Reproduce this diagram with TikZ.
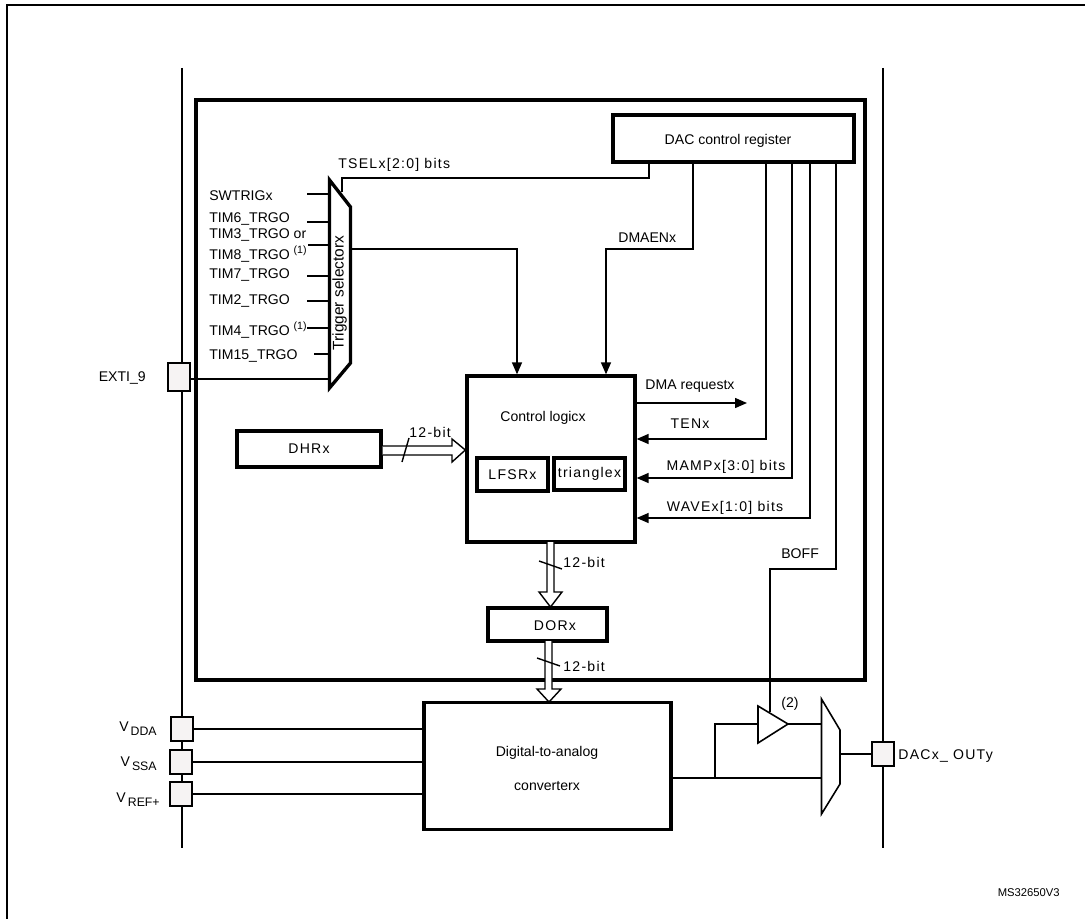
\documentclass[tikz,border=0pt]{standalone}
\usepackage{fontspec}
\setmainfont{Liberation Sans}
\usepackage{xcolor}
\usetikzlibrary{arrows.meta}
\definecolor{pinfill}{RGB}{246,243,243}
\tikzset{
    blockbox/.style={draw, line width=1.9pt, inner sep=0pt},
    pinbox/.style={draw, fill=pinfill, line width=0.9pt, inner sep=0pt, minimum width=0.44cm, minimum height=0.48cm},
    wire/.style={line width=0.8pt},
    sigarrow/.style={wire, -{Triangle[length=2.4mm,width=2mm]}},
    busline/.style={wire, fill=white},
    lbl/.style={inner sep=0pt, font=\fontsize{8}{9.6}\selectfont},
    spaced/.style={inner sep=0pt, font=\fontsize{8}{9.6}\selectfont\addfontfeature{LetterSpace=9}},
    inlbl/.style={lbl, anchor=west}
}
\newcommand{\noteone}{\raisebox{3pt}{\fontsize{6}{7}\selectfont(1)}}
\newcommand{\vsub}[1]{V\raisebox{-2.4pt}{\fontsize{7}{8}\selectfont\,#1}}

\begin{document}
\begin{tikzpicture}[x=0.02cm, y=-0.02cm]
    \useasboundingbox (0,0) rectangle (1085,919);

    % Frame
    \coordinate (framebl) at (7,919);
    \coordinate (frametl) at (7,5);
    \coordinate (frametr) at (1085,5);
    \draw[line width=1pt] (framebl) -- (frametl) -- (frametr);

    % Pin rails
    \coordinate (railltop) at (182,68);
    \coordinate (raillbot) at (182,848);
    \coordinate (railrtop) at (883,68);
    \coordinate (railrbot) at (883,848);
    \draw[wire] (railltop) -- (raillbot);
    \draw[wire] (railrtop) -- (railrbot);

    % Main block
    \node[blockbox, minimum width=13.38cm, minimum height=11.6cm] (mainblock) at (530.5,390) {};

    % Register and logic
    \node[blockbox, minimum width=4.82cm, minimum height=0.94cm] (dacreg) at (733.5,138.5) {};
    \node[lbl] (dacreglabel) at (728,141) {DAC control register};
    \node[blockbox, minimum width=3.36cm, minimum height=3.32cm] (ctrl) at (551,459) {};
    \node[lbl] (ctrllabel) at (543,418) {Control logicx};
    \node[blockbox, minimum width=1.42cm, minimum height=0.66cm, spaced] (lfsr) at (512.5,474.5) {LFSRx};
    \node[blockbox, minimum width=1.42cm, minimum height=0.64cm, spaced] (triangle) at (589.5,474) {trianglex};
    \node[blockbox, minimum width=2.88cm, minimum height=0.72cm, spaced] (dhr) at (309,449) {DHRx};
    \node[blockbox, minimum width=2.38cm, minimum height=0.66cm] (dor) at (547.5,624.5) {};
    \node[spaced] (dorlabel) at (555,626) {DORx};
    \node[blockbox, minimum width=4.94cm, minimum height=2.54cm] (dac) at (547.5,766) {};
    \node[lbl] (daclabel) at (547,753) {Digital-to-analog};
    \node[lbl] (daclabelb) at (547,786) {converterx};

    % Trigger selector
    \coordinate (selta) at (329.5,180);
    \coordinate (seltb) at (350.5,207);
    \coordinate (selbb) at (350.5,363);
    \coordinate (selba) at (329.5,388);
    \draw[line width=1.9pt, miter limit=20] (selta) -- (seltb) -- (selbb) -- (selba) -- cycle;
    \node[lbl, rotate=90, font=\fontsize{8.8}{10}\selectfont] (sellabel) at (339.5,293) {Trigger selectorx};

    % Trigger inputs
    \foreach \name/\ypos/\xstart/\ytext/\txt in {
        a/194/307/196/SWTRIGx,
        b/222/307/219/TIM6\_TRGO,
        c/245/308/254/{TIM8\_TRGO \noteone},
        d/276/307/275/TIM7\_TRGO,
        e/301/307/301/TIM2\_TRGO,
        f/328/307/330/{TIM4\_TRGO \noteone},
        g/354/314/356/TIM15\_TRGO}{
        \node[inlbl] (in\name) at (209,\ytext) {\txt};
        \coordinate (st\name) at (\xstart,\ypos);
        \draw[wire] (st\name) -- (st\name -| selta);
    }
    \node[inlbl] (inor) at (209,235) {TIM3\_TRGO or};

    % Pins
    \node[pinbox, minimum height=0.56cm] (exti) at (179,377) {};
    \node[pinbox] (vdda) at (182,729) {};
    \node[pinbox] (vssa) at (181,762) {};
    \node[pinbox] (vref) at (181,794) {};
    \node[pinbox] (dacout) at (883,754) {};
    \node[lbl, anchor=east] (extilabel) at (146,378) {EXTI\_9};
    \node[lbl, anchor=base east] (vddalabel) at (157,731) {\vsub{DDA}};
    \node[lbl, anchor=base east] (vssalabel) at (157,766) {\vsub{SSA}};
    \node[lbl, anchor=base east] (vreflabel) at (160,802) {\vsub{REF+}};
    \node[spaced, anchor=west] (dacoutlabel) at (898,756) {DACx\_ OUTy};

    \draw[wire] (exti.east |- 0,379) -- (selba |- 0,379);
    \draw[wire] (vdda.east) -- (vdda.east -| dac.west);
    \draw[wire] (vssa.east) -- (vssa.east -| dac.west);
    \draw[wire] (vref.east) -- (vref.east -| dac.west);

    % Selector to logic
    \coordinate (tselfoot) at (342,192);
    \draw[wire] (tselfoot) |- (649,178) -- (dacreg.south -| 649,0);
    \node[spaced, anchor=west] (tsellabel) at (338,165) {TSELx[2:0] bits};
    \draw[sigarrow] (seltb |- 0,249) -| (ctrl.north -| 517,0);
    \draw[sigarrow] (dacreg.south -| 693,0) |- (606,249) -- (ctrl.north -| 606,0);
    \node[lbl, anchor=west] (dmaenlabel) at (618,238) {DMAENx};

    % Control lines
    \draw[sigarrow] (ctrl.east |- 0,403) -- (747,403);
    \node[lbl] (dmalabel) at (690,386) {DMA requestx};
    \draw[sigarrow] (dacreg.south -| 766,0) |- (ctrl.east |- 0,439);
    \node[spaced] (tenlabel) at (690,424) {TENx};
    \draw[sigarrow] (dacreg.south -| 792,0) |- (ctrl.east |- 0,478);
    \node[spaced] (mamplabel) at (726,467) {MAMPx[3:0] bits};
    \draw[sigarrow] (dacreg.south -| 810,0) |- (ctrl.east |- 0,518);
    \node[spaced] (wavelabel) at (725,508) {WAVEx[1:0] bits};

    % Buses
    \draw[busline] (dhr.east |- 0,446) -- (452,446) -- (452,439) -- (ctrl.west |- 0,450) -- (452,462) -- (452,455) -- (dhr.east |- 0,455);
    \draw[wire] (409,438) -- (402,462);
    \node[spaced, anchor=west] (bitlabela) at (409,432) {12-bit};
    \draw[busline] (547,542) -- (547,592) -- (539,592) -- (550.5,607) -- (562,592) -- (554,592) -- (554,542);
    \draw[wire] (539,561) -- (562,569);
    \node[spaced, anchor=west] (bitlabelb) at (563,562) {12-bit};
    \draw[busline] (545,641) -- (545,689) -- (537,689) -- (549,702) -- (561,689) -- (552,689) -- (552,641);
    \draw[wire] (537,658) -- (560,666);
    \node[spaced, anchor=west] (bitlabelc) at (563,666) {12-bit};

    % Output buffer
    \coordinate (bufa) at (758,706);
    \coordinate (buftip) at (788,724);
    \coordinate (bufb) at (758,743);
    \draw[line width=0.9pt] (bufa) -- (buftip) -- (bufb) -- cycle;
    \node[lbl] (buflabel) at (790,704) {(2)};

    % Output switch
    \coordinate (swa) at (821.5,699);
    \coordinate (swb) at (840,730);
    \coordinate (swc) at (840,784);
    \coordinate (swd) at (821.5,814);
    \draw[line width=0.9pt] (swa) -- (swb) -- (swc) -- (swd) -- cycle;

    \coordinate (branch) at (715,778);
    \draw[wire] (dac.east |- branch) -- (branch -| swa);
    \draw[wire] (branch) |- (bufa |- buftip);
    \draw[wire] (buftip) -- (buftip -| swa);
    \draw[wire] (swb |- dacout) -- (dacout.west);

    % BOFF
    \draw[wire] (dacreg.south -| 836,0) |- (770,569) -- (770,712);
    \node[lbl, anchor=west] (bofflabel) at (781,554) {BOFF};

    \node[lbl, anchor=east, font=\fontsize{6.4}{7}\selectfont] (reflabel) at (1060,893) {MS32650V3};
\end{tikzpicture}
\end{document}
